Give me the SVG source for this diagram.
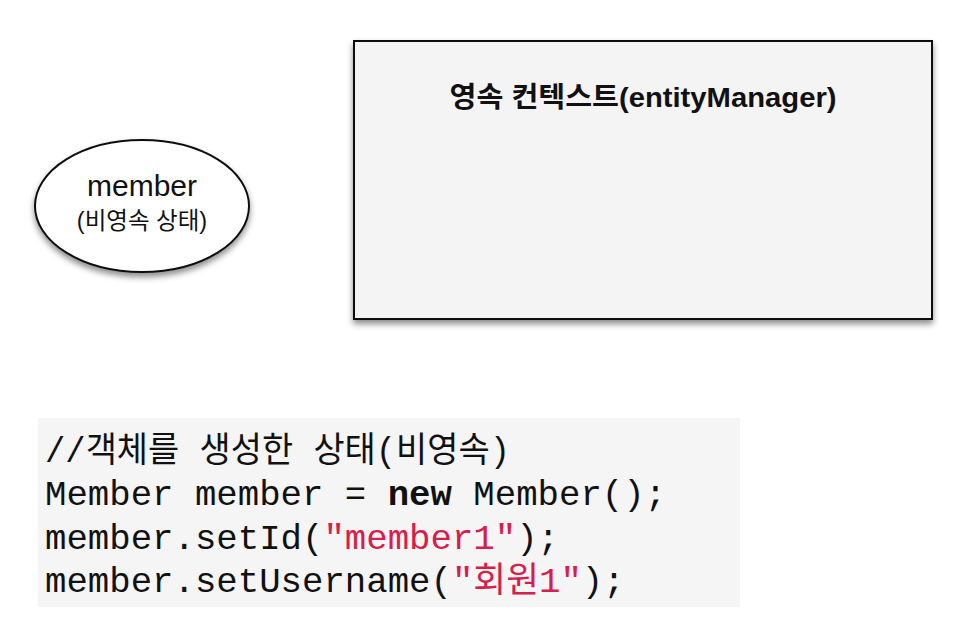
<svg xmlns="http://www.w3.org/2000/svg" width="960" height="623" viewBox="0 0 960 623">
<style>
.sans{font-family:"Liberation Sans","Noto Sans CJK KR",sans-serif;fill:#111}
.code{font-family:"Liberation Mono","Noto Sans CJK KR",monospace;font-size:35.7px;fill:#111}
.str{fill:#d6204b}
</style>
<defs>
<filter id="sh" x="-10%" y="-10%" width="120%" height="130%">
<feDropShadow dx="0" dy="4" stdDeviation="3" flood-color="#000" flood-opacity="0.45"/>
</filter>
</defs>
<rect width="960" height="623" fill="#fff"/>
<g id="member">
<ellipse cx="142" cy="206" rx="107" ry="66" fill="#fff" stroke="#111" stroke-width="2" filter="url(#sh)"/>
<text class="sans" x="142" y="196" font-size="30" text-anchor="middle">member</text>
<text class="sans" x="142" y="229" font-size="23.5" text-anchor="middle">(비영속 상태)</text>
</g>
<g id="persistence-context">
<rect x="354" y="41" width="578" height="278" fill="#f4f4f4" stroke="#111" stroke-width="2" filter="url(#sh)"/>
<text class="sans" x="643" y="107" font-size="28" font-weight="bold" text-anchor="middle" textLength="387" lengthAdjust="spacingAndGlyphs">영속 컨텍스트(entityManager)</text>
</g>
<g id="connectors"></g>
<g id="code">
<rect x="38" y="418" width="702" height="189" fill="#f5f5f5"/>
<text class="code" x="45" y="462" textLength="465" lengthAdjust="spacingAndGlyphs">//객체를 생성한 상태(비영속)</text>
<text class="code" x="45" y="505">Member member = <tspan font-weight="bold">new</tspan> Member();</text>
<text class="code" x="45" y="549">member.setId(<tspan class="str">"member1"</tspan>);</text>
<text class="code" x="45" y="592">member.setUsername(<tspan class="str">"회원1"</tspan>);</text>
</g>
</svg>
